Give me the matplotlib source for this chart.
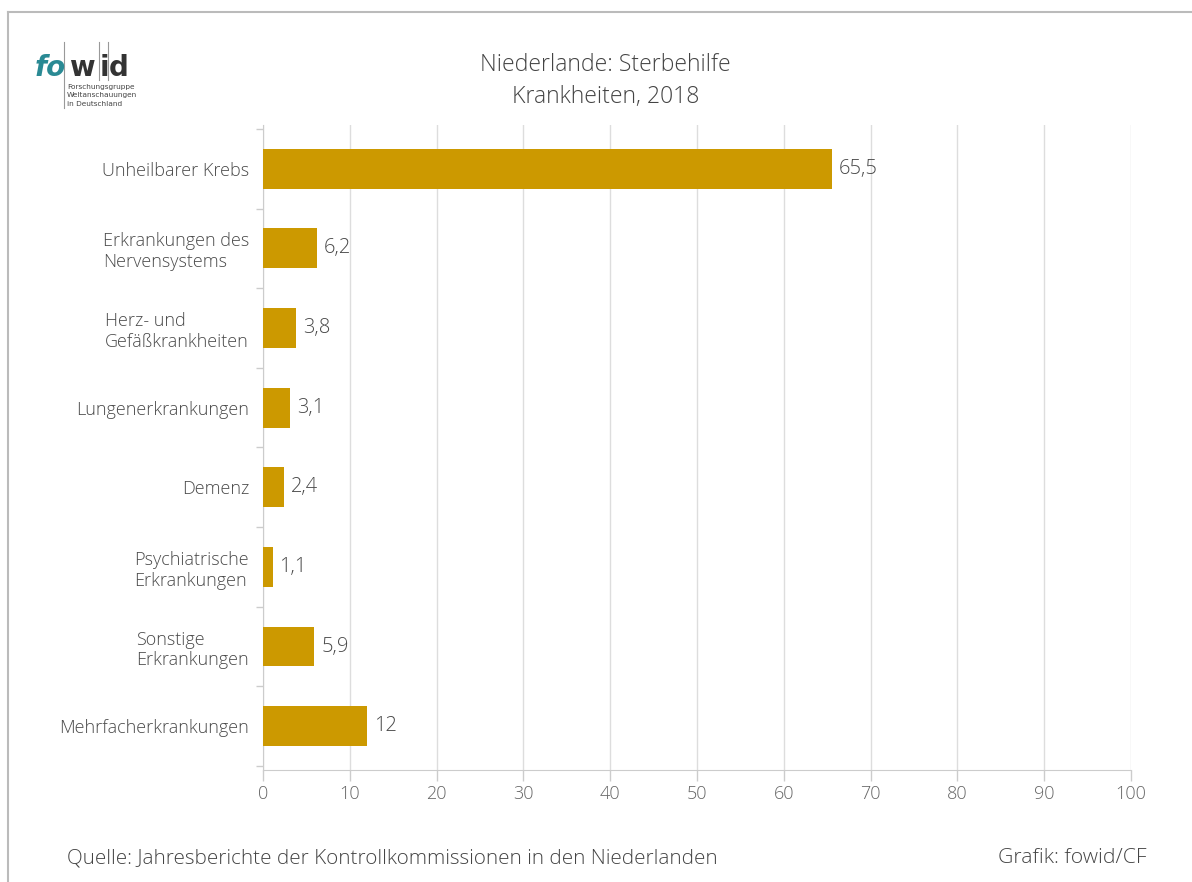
import matplotlib
matplotlib.use("Agg")
import matplotlib.pyplot as plt
from matplotlib.lines import Line2D

plt.rcParams['font.family'] = ['Open Sans', 'DejaVu Sans']
plt.rcParams['font.weight'] = 300

kategorien = ["Unheilbarer Krebs", "Erkrankungen des\nNervensystems", "Herz- und\nGefäßkrankheiten",
              "Lungenerkrankungen", "Demenz", "Psychiatrische\nErkrankungen", "Sonstige\nErkrankungen",
              "Mehrfacherkrankungen"]
werte = [65.5, 6.2, 3.8, 3.1, 2.4, 1.1, 5.9, 12]
werte_text = ["65,5", "6,2", "3,8", "3,1", "2,4", "1,1", "5,9", "12"]
x_ticks = [0, 10, 20, 30, 40, 50, 60, 70, 80, 90, 100]

farbe = "#CC9900"
grau = "#4a4a4a"

fig = plt.figure(figsize=(11.92, 8.82), dpi=100)
ax = fig.add_axes([0.2206, 0.127, 0.7282, 0.7313])

pos = list(range(len(kategorien)))
ax.barh(pos, werte, height=0.5, color=farbe, zorder=3)
for p, w, t in zip(pos, werte, werte_text):
    ax.text(w + 0.8, p, t, va='center', ha='left', fontsize=14.5, color=grau)

ax.set_xlim(0, 100)
ax.set_ylim(7.55, -0.55)
ax.set_xticks(x_ticks)
ax.set_xticklabels([str(v) for v in x_ticks], fontsize=13, color="#666666")
ax.set_yticks(pos)
ax.set_yticklabels(kategorien, fontsize=13, color=grau, multialignment='left')
ax.set_yticks([i + 0.5 for i in range(-1, 8)], minor=True)
ax.tick_params(axis='y', which='major', length=0, pad=10)
ax.tick_params(axis='y', which='minor', length=5, color="#cccccc", width=1)
ax.tick_params(axis='x', length=8, color="#cccccc", width=1, pad=3)

ax.grid(axis='x', color="#dddddd", linewidth=1, zorder=0)
for s in ['top', 'right']:
    ax.spines[s].set_visible(False)
ax.spines['left'].set_color("#cccccc")
ax.spines['bottom'].set_color("#cccccc")

# Titel
fig.text(0.508, 0.926, "Niederlande: Sterbehilfe", ha='center', va='center', fontsize=16.6, color="#444444")
fig.text(0.508, 0.890, "Krankheiten, 2018", ha='center', va='center', fontsize=16.6, color="#444444")

# Fußzeile
fig.text(0.056, 0.027, "Quelle: Jahresberichte der Kontrollkommissionen in den Niederlanden",
         ha='left', va='center', fontsize=14.9, color="#444444")
fig.text(0.962, 0.027, "Grafik: fowid/CF", ha='right', va='center', fontsize=15.2, color="#444444")

# Rahmen
fig.add_artist(Line2D([8 / 1192, 1], [1 - 12 / 882, 1 - 12 / 882], color="#bbbbbb", lw=1.5))
fig.add_artist(Line2D([8 / 1192, 8 / 1192], [0, 1 - 12 / 882], color="#bbbbbb", lw=1.5))

# Logo
fig.text(35 / 1192, 1 - 76 / 882, "fo", fontsize=20, fontweight='bold', fontstyle='italic',
         color="#2a8a94", family='DejaVu Sans', va='baseline')
for buchstabe, cx in [("w", 82), ("i", 104), ("d", 119)]:
    fig.text(cx / 1192, 1 - 76 / 882, buchstabe, fontsize=20, fontweight='bold', color="#333333",
             family='DejaVu Sans', va='baseline', ha='center')
for lx, y0 in [(64, 108), (99, 80), (108, 80)]:
    fig.add_artist(Line2D([lx / 1192, lx / 1192], [1 - y0 / 882, 1 - 42 / 882], color="#999999", lw=0.8))
for i, zeile in enumerate(["Forschungsgruppe", "Weltanschauungen", "in Deutschland"]):
    fig.text(67 / 1192, 1 - (87 + 8.5 * i) / 882, zeile, fontsize=5.3, color="#444444",
             family='DejaVu Sans', va='center')

fig.savefig("out.png", dpi=100)
